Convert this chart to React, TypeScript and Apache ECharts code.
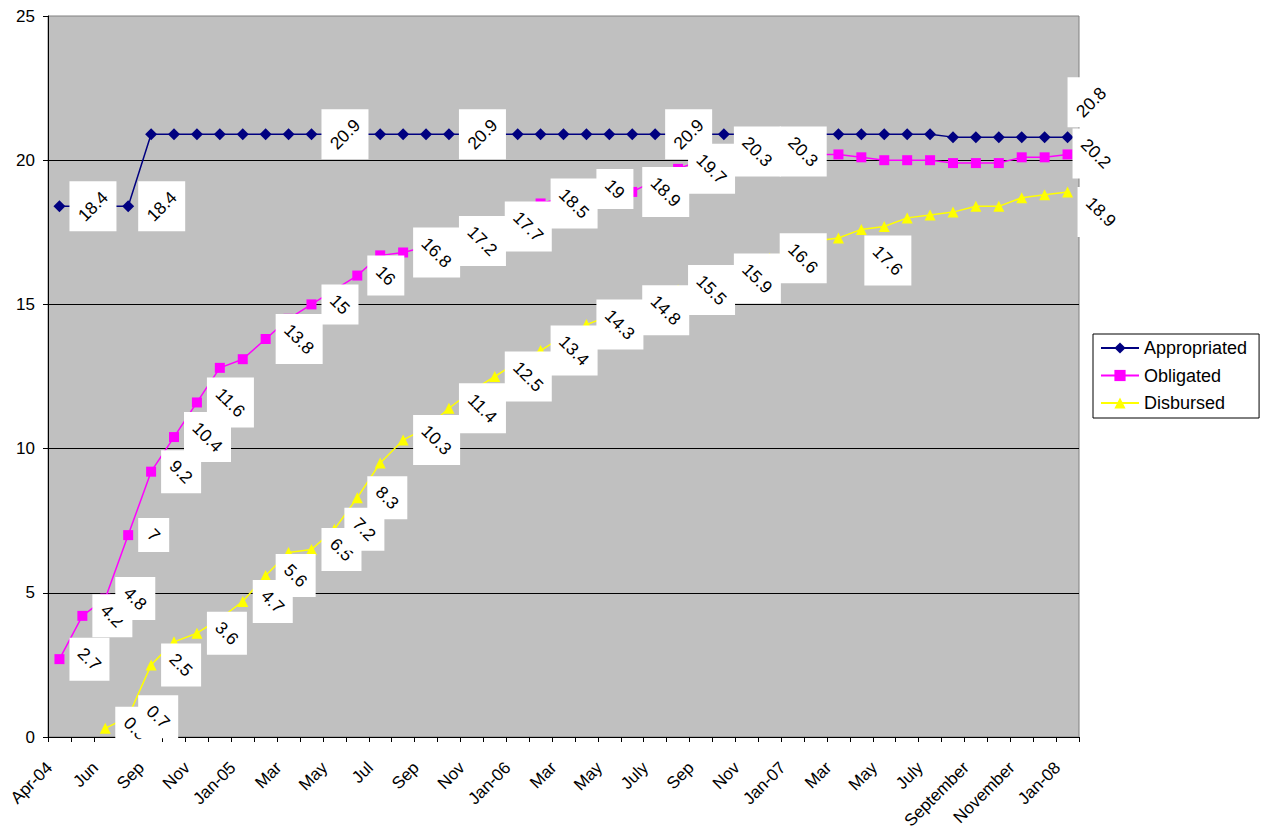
import React, { useEffect, useRef } from "react";
import * as echarts from "echarts";

const FONT = "'Liberation Sans', Arial, Helvetica, sans-serif";

const categories = [
  "Apr-04", "May", "Jun", "Jul", "Sep", "Oct", "Nov", "Dec",
  "Jan-05", "Feb", "Mar", "Apr", "May", "Jun", "Jul", "Aug", "Sep", "Oct", "Nov", "Dec",
  "Jan-06", "Feb", "Mar", "Apr", "May", "June", "July", "August", "Sep", "Oct", "Nov", "Dec",
  "Jan-07", "Feb", "Mar", "Apr", "May", "June", "July", "August", "September", "October", "November", "December",
  "Jan-08",
];

const appropriated = [
  18.4, 18.4, 18.4, 18.4,
  20.9, 20.9, 20.9, 20.9, 20.9,
  20.9, 20.9, 20.9, 20.9, 20.9,
  20.9, 20.9, 20.9, 20.9, 20.9,
  20.9, 20.9, 20.9, 20.9, 20.9,
  20.9, 20.9, 20.9, 20.9, 20.9,
  20.9, 20.9, 20.9, 20.9, 20.9,
  20.9, 20.9, 20.9, 20.9, 20.9,
  20.8, 20.8, 20.8, 20.8, 20.8, 20.8,
];

const obligated = [
  2.7, 4.2, 4.8, 7, 9.2,
  10.4, 11.6, 12.8, 13.1, 13.8,
  14.5, 15, 15.5, 16, 16.7,
  16.8, 17.0, 17.2, 17.5, 17.7,
  18.1, 18.5, 18.7, 19, 19.0,
  18.9, 19.3, 19.7, 20.0, 20.3,
  20.3, 20.3, 20.3, 20.2, 20.2,
  20.1, 20.0, 20.0, 20.0, 19.9,
  19.9, 19.9, 20.1, 20.1, 20.2,
];

const disbursed = [
  null, null, 0.3, 0.7, 2.5,
  3.3, 3.6, 4.1, 4.7, 5.6,
  6.4, 6.5, 7.2, 8.3, 9.5,
  10.3, 10.7, 11.4, 12.0, 12.5,
  13.0, 13.4, 13.9, 14.3, 14.6,
  14.8, 15.2, 15.5, 15.7, 15.9,
  16.3, 16.6, 16.9, 17.2, 17.3,
  17.6, 17.7, 18.0, 18.1, 18.2,
  18.4, 18.4, 18.7, 18.8, 18.9,
];

// indices of the points that carry a data label
const appropriatedLabels = [0, 3, 11, 17, 26, 44];
const obligatedLabels = [0, 1, 2, 3, 4, 5, 6, 9, 11, 13, 15, 17, 19, 21, 23, 25, 27, 29, 31, 44];
const disbursedLabels = [2, 3, 4, 6, 8, 9, 11, 12, 13, 15, 17, 19, 21, 23, 25, 27, 29, 31, 35, 44];

const yMin = 0;
const yMax = 25;
const yStep = 5;

// label placement tweaks (pixels) for labels that were moved in the original
const labelShift: Record<string, [number, number]> = {
  a44: [0, -35],
  o44: [5, -1],
  d35: [3, 31],
  d44: [10, 20],
};

function textWidth(t: string, fs: number) {
  let w = 0;
  for (const c of t) w += c === "." ? 0.278 : 0.556;
  return w * fs;
}

function labelSeries(key: string, values: (number | null)[], idx: number[], dir: number, z: number) {
  const data = idx.map((i) => {
    const s = labelShift[key + i] || [10, 0];
    return [i, values[i] as number, s[0], s[1]];
  });
  return {
    type: "custom",
    coordinateSystem: "cartesian2d",
    z,
    clip: false,
    silent: true,
    encode: { x: 0, y: 1 },
    data,
    renderItem: (_params: any, api: any) => {
      const v = api.value(1);
      const p = api.coord([api.value(0), v]);
      const dx = api.value(2);
      const dy = api.value(3);
      const text = String(v);
      const w = Math.round((textWidth(text, 16) + 18) / Math.SQRT2 + 12);
      const h = w + 3;
      const left = p[0] + dx;
      const cy = p[1] + dy;
      return {
        type: "group",
        children: [
          {
            type: "rect",
            shape: { x: left, y: cy - h / 2, width: w, height: h },
            style: { fill: "#ffffff" },
          },
          {
            type: "text",
            x: left + w / 2,
            y: cy,
            rotation: (dir * Math.PI) / 4,
            style: {
              text,
              fill: "#000000",
              fontSize: 17.5,
              fontFamily: FONT,
              align: "center",
              verticalAlign: "middle",
            },
          },
        ],
      };
    },
  };
}

export default function App() {
  const ref = useRef<HTMLDivElement>(null);

  useEffect(() => {
    if (!ref.current) return;
    const chart = echarts.init(ref.current, undefined, { renderer: "svg" });
    chart.setOption({
      animation: false,
      backgroundColor: "#ffffff",
      textStyle: { fontFamily: FONT },
      grid: {
        left: 48,
        top: 16,
        right: 185,
        bottom: 97,
        show: true,
        backgroundColor: "#C0C0C0",
        borderColor: "#808080",
        borderWidth: 1,
      },
      legend: {
        orient: "vertical",
        left: 1093,
        top: 334,
        padding: [5, 12, 6, 7],
        itemWidth: 38,
        itemHeight: 14,
        itemGap: 9.5,
        borderColor: "#000000",
        borderWidth: 1,
        backgroundColor: "#ffffff",
        textStyle: { fontSize: 18, fontFamily: FONT, color: "#000000" },
        data: ["Appropriated", "Obligated", "Disbursed"],
      },
      xAxis: {
        type: "category",
        data: categories,
        boundaryGap: true,
        axisLine: { show: true, lineStyle: { color: "#000000", width: 1 } },
        axisTick: { show: true, interval: 0, length: 5, lineStyle: { color: "#000000" } },
        axisLabel: {
          interval: 1,
          rotate: 45,
          fontSize: 17,
          fontFamily: FONT,
          color: "#000000",
          margin: 18,
          padding: [0, 14, 0, 0],
        },
        splitLine: { show: false },
      },
      yAxis: {
        type: "value",
        min: yMin,
        max: yMax,
        interval: yStep,
        axisLine: { show: true, lineStyle: { color: "#000000", width: 1 } },
        axisTick: { show: true, length: 5, lineStyle: { color: "#000000" } },
        axisLabel: { fontSize: 17, fontFamily: FONT, color: "#000000", margin: 13 },
        splitLine: { show: true, showMaxLine: false, lineStyle: { color: "#000000", width: 1 } },
      },
      series: [
        {
          name: "Appropriated",
          type: "line",
          data: appropriated,
          symbol: "diamond",
          symbolSize: 12,
          z: 2,
          itemStyle: { color: "#000080" },
          lineStyle: { color: "#000080", width: 1.5 },
        },
        {
          name: "Obligated",
          type: "line",
          data: obligated,
          symbol: "rect",
          symbolSize: 10,
          z: 2,
          itemStyle: { color: "#FF00FF" },
          lineStyle: { color: "#FF00FF", width: 1.5 },
        },
        {
          name: "Disbursed",
          type: "line",
          data: disbursed,
          symbol: "triangle",
          symbolSize: 11,
          z: 2,
          itemStyle: { color: "#FFFF00" },
          lineStyle: { color: "#FFFF00", width: 1.5 },
        },
        labelSeries("a", appropriated, appropriatedLabels, 1, 3),
        labelSeries("o", obligated, obligatedLabels, -1, 4),
        labelSeries("d", disbursed, disbursedLabels, -1, 5),
      ],
    });
    return () => chart.dispose();
  }, []);

  return (
    <div
      ref={ref}
      style={{ position: "absolute", left: 0, top: 0, width: 1264, height: 834 }}
    />
  );
}
